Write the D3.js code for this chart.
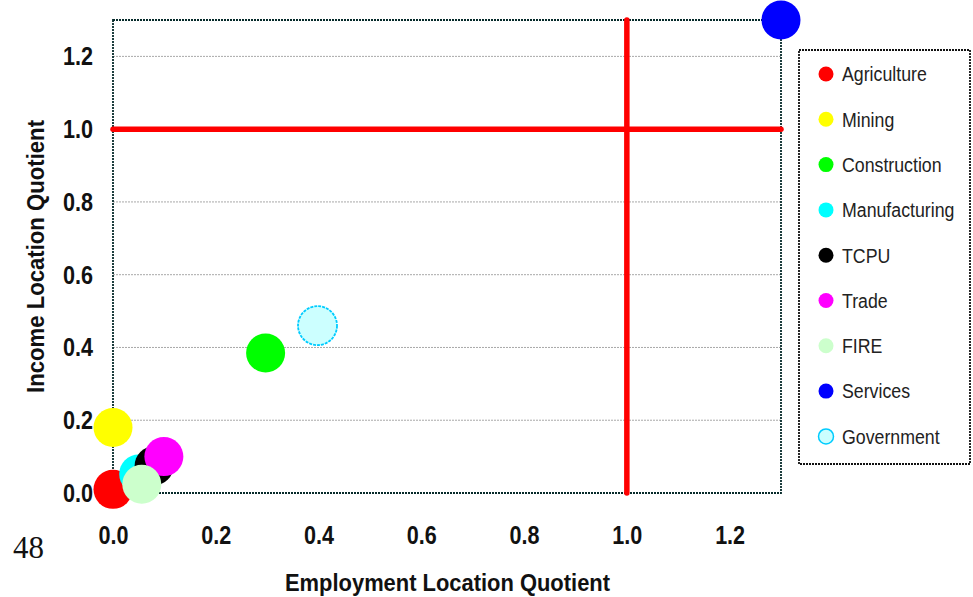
<!DOCTYPE html>
<html>
<head>
<meta charset="utf-8">
<script src="https://cdn.jsdelivr.net/npm/d3@7"></script>
<style>
  html, body { margin: 0; padding: 0; background: #fff; }
  svg { display: block; }
  .tick text { font-family: "Liberation Sans", Arial, sans-serif; font-weight: bold; fill: #111; }
</style>
</head>
<body>
<svg id="chart" width="973" height="597"></svg>
<script>
// Industry location quotients: employment (x) vs income (y)
const sectors = ["Agriculture", "Mining", "Construction", "Manufacturing", "TCPU", "Trade", "FIRE", "Services", "Government"];
const employmentLQ = [0.00, 0.00, 0.297, 0.05, 0.08, 0.099, 0.056, 1.30, 0.398];
const incomeLQ     = [0.01, 0.18, 0.385, 0.052, 0.075, 0.10, 0.024, 1.30, 0.46];
const fills   = ["#ff0000", "#ffff00", "#00ff00", "#00ffff", "#000000", "#ff00ff", "#ccffcc", "#0000ff", "#ccffff"];
const strokes = [null, null, null, null, null, null, null, null, "#00ccff"];
const tickValues = [0.0, 0.2, 0.4, 0.6, 0.8, 1.0, 1.2];
const gridValues = [0.2, 0.4, 0.6, 0.8, 1.2];
const benchmark = 1.0;

const svg = d3.select("#chart");
const sans = '"Liberation Sans", Arial, sans-serif';
// narrow look: horizontally condensed Liberation Sans
const tickSqueeze = 0.83, legendSqueeze = 0.845;

const x = d3.scaleLinear().domain([0, 1.3]).range([113, 781]);
const y = d3.scaleLinear().domain([0, 1.3]).range([493, 20]);

// horizontal gridlines
svg.append("g").selectAll("line").data(gridValues).join("line")
  .attr("x1", x(0)).attr("x2", x(1.3))
  .attr("y1", d => y(d)).attr("y2", d => y(d))
  .attr("stroke", "#a8a8a8").attr("stroke-width", 1).attr("stroke-dasharray", "2,1");

// plot frame
svg.append("rect")
  .attr("x", x(0)).attr("y", y(1.3))
  .attr("width", x(1.3) - x(0)).attr("height", y(0) - y(1.3))
  .attr("fill", "none").attr("stroke", "#062a2a").attr("stroke-width", 1.8)
  .attr("stroke-dasharray", "2,1");

// benchmark lines at LQ = 1
svg.append("line")
  .attr("x1", x(0)).attr("x2", x(1.3)).attr("y1", y(benchmark)).attr("y2", y(benchmark))
  .attr("stroke", "#ff0000").attr("stroke-width", 5.5).attr("stroke-linecap", "round");
svg.append("line")
  .attr("x1", x(benchmark)).attr("x2", x(benchmark)).attr("y1", y(1.3)).attr("y2", y(0))
  .attr("stroke", "#ff0000").attr("stroke-width", 5.5).attr("stroke-linecap", "round");

// axes
const xAxis = svg.append("g").attr("transform", `translate(0,${y(0)})`)
  .call(d3.axisBottom(x).tickValues(tickValues).tickFormat(d3.format(".1f")).tickSize(0).tickPadding(33));
xAxis.select(".domain").remove();
xAxis.selectAll("text").attr("font-size", 26).attr("dy", "0.71em")
  .attr("transform", `scale(${tickSqueeze},1)`);

const yAxis = svg.append("g").attr("transform", `translate(${x(0)},0)`)
  .call(d3.axisLeft(y).tickValues(tickValues).tickFormat(d3.format(".1f")).tickSize(0).tickPadding(20 / tickSqueeze));
yAxis.select(".domain").remove();
yAxis.selectAll("text").attr("font-size", 26)
  .attr("transform", `scale(${tickSqueeze},1)`);

// bubbles
const data = sectors.map((s, i) => ({ s, ex: employmentLQ[i], inc: incomeLQ[i], fill: fills[i], stroke: strokes[i] }));
svg.append("g").selectAll("circle").data(data).join("circle")
  .attr("cx", d => x(d.ex)).attr("cy", d => y(d.inc)).attr("r", 19.5)
  .attr("fill", d => d.fill)
  .attr("stroke", d => d.stroke || "none")
  .attr("stroke-width", d => d.stroke ? 1.8 : 0)
  .attr("stroke-dasharray", d => d.stroke ? "3,1" : null);

// axis titles
svg.append("text")
  .attr("x", 285).attr("y", 591)
  .attr("textLength", 325).attr("lengthAdjust", "spacingAndGlyphs")
  .attr("font-family", sans).attr("font-weight", "bold").attr("font-size", 24.5).attr("fill", "#111")
  .text("Employment Location Quotient");
svg.append("text")
  .attr("transform", "translate(44,393) rotate(-90)")
  .attr("textLength", 273).attr("lengthAdjust", "spacingAndGlyphs")
  .attr("font-family", sans).attr("font-weight", "bold").attr("font-size", 24.5).attr("fill", "#111")
  .text("Income Location Quotient");

// legend
const legend = svg.append("g");
legend.append("rect")
  .attr("x", 799).attr("y", 50).attr("width", 171).attr("height", 414)
  .attr("fill", "#fff").attr("stroke", "#111").attr("stroke-width", 1.8).attr("stroke-dasharray", "2,1");
const item = legend.selectAll("g.item").data(data).join("g")
  .attr("class", "item")
  .attr("transform", (d, i) => `translate(826,${74 + i * 45.3})`);
item.append("circle")
  .attr("r", 7.5)
  .attr("fill", d => d.fill)
  .attr("stroke", d => d.stroke || "none")
  .attr("stroke-width", d => d.stroke ? 1.5 : 0);
item.append("text")
  .attr("transform", `scale(${legendSqueeze},1)`)
  .attr("x", 16 / legendSqueeze).attr("dy", "0.35em")
  .attr("font-family", sans).attr("font-size", 21).attr("fill", "#222")
  .text(d => d.s);

// page number
svg.append("text")
  .attr("x", 13).attr("y", 558)
  .attr("font-family", '"Liberation Serif", "Times New Roman", serif').attr("font-size", 31).attr("fill", "#111")
  .text("48");
</script>
</body>
</html>
